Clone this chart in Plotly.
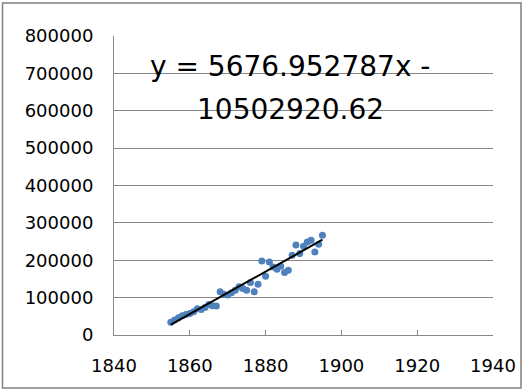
import plotly.graph_objects as go

years = list(range(1855, 1896))
values = [33800, 40000, 46200, 51600, 55100, 57800, 62200, 70200, 68400, 73800,
          81800, 78200, 77300, 115600, 109300, 106700, 112900, 120000, 128900, 124400,
          120000, 140400, 115600, 136000, 198200, 157300, 195600, 182200, 176000, 184000,
          167100, 173300, 213300, 240900, 217800, 237300, 248900, 253300, 222200, 242700,
          266700]

slope = 5676.952787
intercept = -10502920.62
trend_x = [years[0], years[-1]]
trend_y = [slope * x + intercept for x in trend_x]

x_ticks = [1840, 1860, 1880, 1900, 1920, 1940]
y_ticks = [0, 100000, 200000, 300000, 400000, 500000, 600000, 700000, 800000]

W, H = 527, 392
L, R, T, B = 114, 493, 36, 335

def px(x):
    return (x - L) / (R - L)

def py(y):
    return (B - y) / (B - T)

fig = go.Figure()
fig.add_trace(go.Scatter(x=years, y=values, mode="markers",
                         marker=dict(color="#4F81BD", size=7, line=dict(width=0)),
                         showlegend=False, hoverinfo="skip"))
fig.add_trace(go.Scatter(x=trend_x, y=trend_y, mode="lines",
                         line=dict(color="#000000", width=2),
                         showlegend=False, hoverinfo="skip"))

fig.update_layout(
    width=W, height=H,
    margin=dict(l=L, r=W - R, t=T, b=H - B, pad=0),
    paper_bgcolor="white", plot_bgcolor="white",
    font=dict(family="DejaVu Sans", size=18, color="#000000"),
    xaxis=dict(range=[1840, 1940], tickvals=x_ticks, ticktext=[str(v) for v in x_ticks],
               showgrid=False, zeroline=False, showline=True, linecolor="#868686",
               linewidth=1, ticks="inside", ticklen=5, tickcolor="#868686",
               ticklabelstandoff=14,
               tickfont=dict(family="DejaVu Sans", size=18), fixedrange=True),
    yaxis=dict(range=[0, 800000], tickvals=y_ticks, ticktext=[str(v) for v in y_ticks],
               showgrid=True, gridcolor="#868686", gridwidth=1, zeroline=False,
               showline=True, linecolor="#868686", linewidth=1, ticks="",
               ticklabelstandoff=16,
               tickfont=dict(family="DejaVu Sans", size=18), fixedrange=True),
    shapes=[dict(type="rect", xref="paper", yref="paper",
                 x0=px(2.5), x1=px(521), y0=py(388), y1=py(3),
                 line=dict(color="#808080", width=1.5), fillcolor="rgba(0,0,0,0)",
                 layer="above")],
    annotations=[
        dict(text="y = 5676.952787x -", xref="paper", yref="paper",
             x=px(290), y=py(66), xanchor="center", yanchor="middle", showarrow=False,
             font=dict(family="DejaVu Sans", size=28, color="#000000")),
        dict(text="10502920.62", xref="paper", yref="paper",
             x=px(290), y=py(110), xanchor="center", yanchor="middle", showarrow=False,
             font=dict(family="DejaVu Sans", size=28, color="#000000")),
    ],
)

fig.write_html("out.html")
